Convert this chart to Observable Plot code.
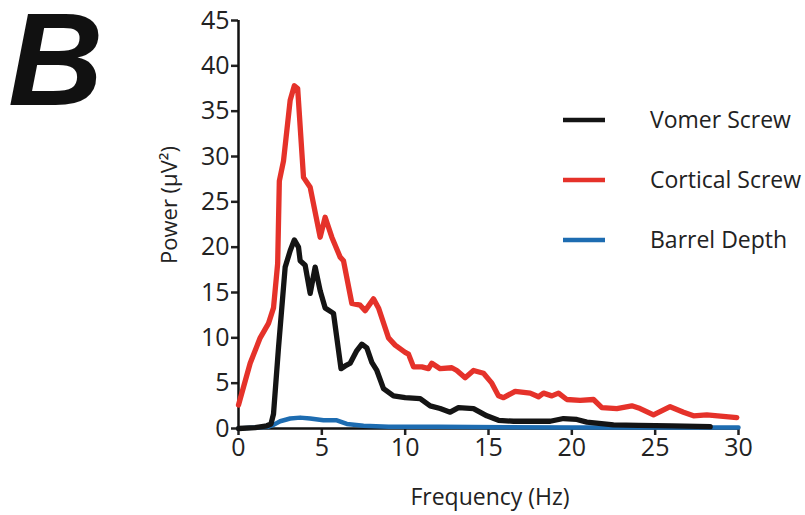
<!DOCTYPE html>
<html>
<head>
<meta charset="utf-8">
<script src="https://cdn.jsdelivr.net/npm/d3@7"></script>
<script src="https://cdn.jsdelivr.net/npm/@observablehq/plot@0.6"></script>
<style>
  body { margin: 0; background: #fff; }
  #wrap { position: relative; width: 805px; height: 515px; }
  #wrap svg g[aria-label$="tick"] { stroke-width: 2.5px; }
</style>
</head>
<body>
<div id="wrap"></div>
<script>
// ---- data ----
const seriesNames = ["Vomer Screw", "Cortical Screw", "Barrel Depth"];
const seriesColors = ["#141414", "#e5322a", "#1d6cb1"];

const xTicks = [0, 5, 10, 15, 20, 25, 30];
const yTicks = [0, 5, 10, 15, 20, 25, 30, 35, 40, 45];

const vomerFreq = [0, 1.0, 1.7, 1.95, 2.1, 2.4, 2.8, 3.1, 3.35, 3.6, 3.7, 4.0, 4.3, 4.6, 4.9, 5.2, 5.7, 6.15, 6.4, 6.7, 7.1, 7.4, 7.7, 8.0, 8.3, 8.7, 9.3, 10.0, 10.9, 11.5, 12.1, 12.7, 13.2, 14.1, 14.9, 15.6, 16.5, 18.7, 19.5, 20.3, 20.9, 22.5, 24, 26, 28.3];
const vomerPower = [0, 0.1, 0.3, 0.5, 1.6, 8.9, 17.8, 19.6, 20.8, 20.0, 18.5, 18.0, 14.9, 17.8, 15.2, 13.3, 12.7, 6.6, 6.9, 7.2, 8.6, 9.3, 8.9, 7.3, 6.4, 4.4, 3.6, 3.4, 3.3, 2.5, 2.2, 1.8, 2.3, 2.2, 1.4, 0.9, 0.8, 0.8, 1.1, 1.0, 0.7, 0.4, 0.35, 0.3, 0.2];

const corticalFreq = [0, 0.7, 1.3, 1.8, 2.1, 2.35, 2.45, 2.7, 3.1, 3.35, 3.55, 3.9, 4.3, 4.9, 5.2, 5.6, 6.1, 6.3, 6.8, 7.3, 7.6, 8.1, 8.4, 9.0, 9.4, 10.0, 10.2, 10.5, 11.0, 11.4, 11.6, 12.1, 12.8, 13.1, 13.6, 14.1, 14.7, 15.2, 15.6, 15.9, 16.6, 17.5, 18.0, 18.3, 18.8, 19.2, 19.7, 20.5, 21.3, 21.8, 22.7, 23.6, 24.1, 24.9, 25.9, 26.7, 27.3, 28.1, 29.9];
const corticalPower = [2.6, 7.2, 10.0, 11.6, 13.3, 18.2, 27.3, 29.5, 36.2, 37.8, 37.5, 27.7, 26.6, 21.1, 23.3, 21.1, 18.9, 18.5, 13.8, 13.6, 13.0, 14.3, 13.3, 10.0, 9.2, 8.4, 8.2, 6.8, 6.8, 6.6, 7.2, 6.6, 6.7, 6.4, 5.6, 6.4, 6.1, 5.0, 3.6, 3.4, 4.1, 3.9, 3.5, 3.9, 3.6, 3.9, 3.2, 3.1, 3.2, 2.3, 2.2, 2.5, 2.2, 1.5, 2.4, 1.8, 1.4, 1.5, 1.2];

const barrelFreq = [0, 1.0, 1.8, 2.1, 2.5, 3.1, 3.7, 4.3, 5.1, 5.9, 6.5, 7.5, 9, 12, 16, 20, 25, 30];
const barrelPower = [0, 0.1, 0.2, 0.4, 0.8, 1.1, 1.2, 1.1, 0.9, 0.9, 0.5, 0.3, 0.2, 0.2, 0.15, 0.1, 0.1, 0.1];

const xLabel = "Frequency (Hz)";
const yLabel = "Power (μV²)";
const panelLetter = "B";

// ---- build table ----
function rowsFor(name, fs, vs) { return fs.map((f, i) => ({series: name, f, v: vs[i]})); }
const vomer = rowsFor(seriesNames[0], vomerFreq, vomerPower);
const cortical = rowsFor(seriesNames[1], corticalFreq, corticalPower);
const barrel = rowsFor(seriesNames[2], barrelFreq, barrelPower);

const FONT = "'Open Sans', 'DejaVu Sans', sans-serif";
const lineOpts = {x: "f", y: "v", stroke: "series", strokeWidth: 5.3, strokeLinejoin: "round", strokeLinecap: "round"};

const plot = Plot.plot({
  width: 805, height: 515,
  marginLeft: 238, marginRight: 67, marginTop: 20, marginBottom: 87,
  style: {fontFamily: FONT, fontSize: "25px", color: "#222", background: "#fff", overflow: "visible"},
  x: {domain: [0, 30], ticks: xTicks, label: null, tickSize: 7, tickPadding: 3},
  y: {domain: [0, 45], ticks: yTicks, label: null, tickSize: 7, tickPadding: 2},
  color: {domain: seriesNames, range: seriesColors},
  marks: [
    Plot.ruleX([0], {y1: 0, y2: 45, stroke: "#111", strokeWidth: 2.5}),
    Plot.ruleY([0], {x1: 0, x2: 30, stroke: "#111", strokeWidth: 2.5}),
    Plot.line(barrel, {...lineOpts, strokeWidth: 4.5}),
    Plot.line(cortical, lineOpts),
    Plot.line(vomer, lineOpts)
  ]
});
document.getElementById("wrap").appendChild(plot);

// ---- annotations: labels, legend, panel letter ----
const svg = d3.select(plot);
const xs = plot.scale("x");
const midX = (xs.range[0] + xs.range[1]) / 2;

svg.append("text").text(xLabel)
  .attr("x", midX + 2).attr("y", 505)
  .attr("text-anchor", "middle").attr("fill", "#222")
  .style("font-family", FONT).style("font-size", "23px");

svg.append("text").text(yLabel)
  .attr("transform", `translate(177,205) rotate(-90)`)
  .attr("text-anchor", "middle").attr("fill", "#222")
  .style("font-family", FONT).style("font-size", "22px");

const legendY = [120, 180, 240];
seriesNames.forEach((name, i) => {
  svg.append("line")
    .attr("x1", 563).attr("x2", 605).attr("y1", legendY[i]).attr("y2", legendY[i])
    .attr("stroke", seriesColors[i]).attr("stroke-width", 4.5);
  svg.append("text").text(name)
    .attr("x", 650).attr("y", legendY[i] + 8)
    .attr("text-anchor", "start")
    .attr("fill", "#222")
    .style("font-family", FONT).style("font-size", "23px");
});

svg.append("text").text(panelLetter)
  .attr("x", 8).attr("y", 105)
  .attr("text-anchor", "start")
  .attr("fill", "#111")
  .style("font-family", "'Liberation Sans', Arial, sans-serif")
  .style("font-weight", "bold").style("font-style", "italic")
  .style("font-size", "132px");
</script>
</body>
</html>
